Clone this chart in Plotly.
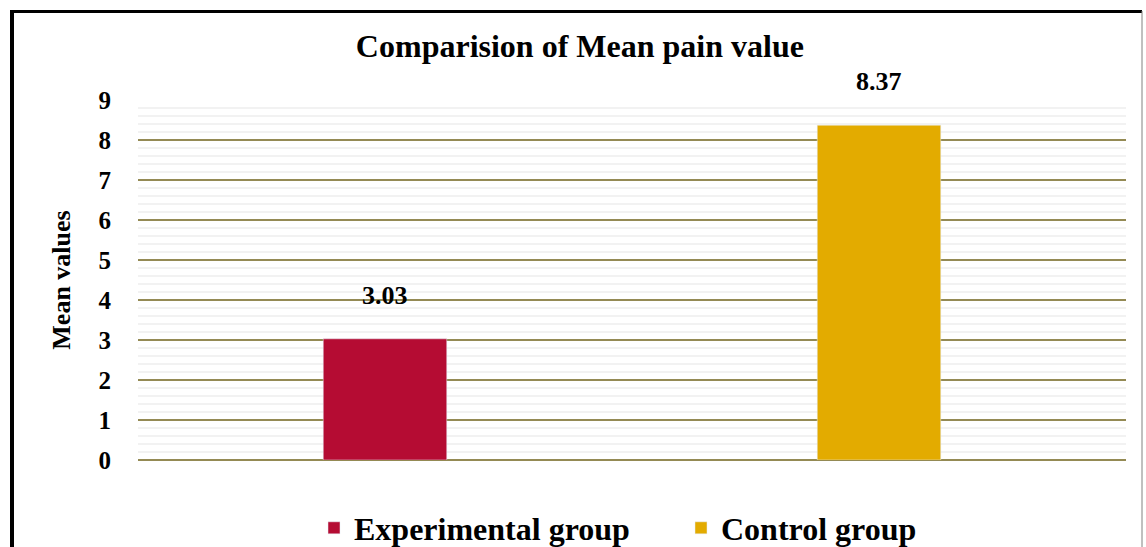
import plotly.graph_objects as go

categories = ["Experimental group", "Control group"]
values = [3.03, 8.37]
labels = ["3.03", "8.37"]
colors = ["#B50C33", "#E3AB00"]
y_ticks = [0, 1, 2, 3, 4, 5, 6, 7, 8, 9]

FONT = "Liberation Serif"

fig = go.Figure()
for cat, val, col in zip(categories, values, colors):
    fig.add_trace(go.Bar(x=[cat], y=[val], name="<b>%s</b>" % cat, marker_color=col,
                         width=0.25, hoverinfo="y"))

for cat, val, lab in zip(categories, values, labels):
    fig.add_annotation(x=cat, y=val, text="<b>%s</b>" % lab, showarrow=False,
                       yanchor="bottom", yshift=27,
                       font=dict(family=FONT, size=26, color="black"))

L, R, T, B = 138, 20, 100, 87
W, H = 1146, 547
pw, ph = W - L - R, H - T - B

def px(x):
    return (x - L) / pw

def py(y):
    return (H - B - y) / ph

# outer frame
fig.add_shape(type="line", xref="paper", yref="paper", x0=px(12), x1=px(12), y0=py(10), y1=py(560),
              line=dict(color="black", width=4))
fig.add_shape(type="line", xref="paper", yref="paper", x0=px(10), x1=px(1142), y0=py(11.5), y1=py(11.5),
              line=dict(color="black", width=3))
fig.add_shape(type="line", xref="paper", yref="paper", x0=px(1142), x1=px(1142), y0=py(11), y1=py(560),
              line=dict(color="#808080", width=1))

fig.update_layout(
    width=W, height=H,
    margin=dict(l=L, r=R, t=T, b=B, autoexpand=False),
    paper_bgcolor="white", plot_bgcolor="white",
    barmode="overlay",
    font=dict(family=FONT, color="black"),
    title=dict(text="<b>Comparision of Mean pain value</b>", x=0.506, xref="container", xanchor="center",
               y=1 - 46 / H, yref="container", yanchor="middle",
               font=dict(family=FONT, size=32, color="black")),
    showlegend=True,
    legend=dict(orientation="h", x=px(314), xanchor="left", y=1 - 528 / H, yref="container",
                yanchor="middle",
                font=dict(family=FONT, size=32, color="black"), entrywidth=322,
                itemclick=False),
    xaxis=dict(showticklabels=False, showgrid=False, zeroline=False, showline=False,
               fixedrange=True),
    yaxis=dict(range=[0, 9], tickvals=y_ticks, ticktext=["<b>%d</b>" % t for t in y_ticks],
               tickfont=dict(family=FONT, size=25, color="black"),
               showgrid=True, gridcolor="#948A54", gridwidth=2,
               zeroline=True, zerolinecolor="#948A54", zerolinewidth=2,
               ticks="outside", ticklen=21, tickcolor="rgba(0,0,0,0)",
               minor=dict(dtick=0.2, showgrid=True, gridcolor="#F2F2F2", gridwidth=2),
               title=dict(text="<b>Mean values</b>", font=dict(family=FONT, size=26, color="black"),
                          standoff=20),
               automargin=False,
               fixedrange=True),
)

fig.write_html("out.html", config={"displayModeBar": False},
               post_script="document.body.style.margin='0';")
